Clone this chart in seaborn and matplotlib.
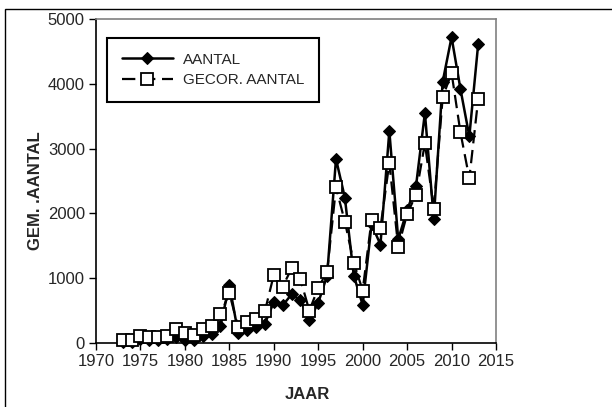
import matplotlib
matplotlib.use("Agg")
import matplotlib.pyplot as plt
import seaborn as sns
import pandas as pd
from matplotlib.patches import Rectangle

years = list(range(1973, 2014))
aantal = [20, 20, 60, 50, 40, 60, 100, 50, 40, 110, 140, 260, 900, 150, 200, 240, 300,
          630, 580, 750, 660, 350, 620, 1040, 2840, 2240, 1040, 590, 1830, 1520, 3270,
          1600, 2050, 2420, 3550, 1920, 4030, 4720, 3920, 3190, 4620]
gecor = [40, 40, 115, 90, 90, 115, 210, 160, 130, 210, 260, 440, 770, 240, 330, 370, 490,
         1050, 870, 1150, 980, 500, 850, 1100, 2400, 1870, 1240, 810, 1900, 1780, 2780,
         1480, 1990, 2290, 3080, 2070, 3790, 4170, 3250, 2540, 3770]
x_ticks = [1970, 1975, 1980, 1985, 1990, 1995, 2000, 2005, 2010, 2015]
y_ticks = [0, 1000, 2000, 3000, 4000, 5000]
labels = ["AANTAL", "GECOR. AANTAL"]

df = pd.DataFrame({"JAAR": years, "AANTAL": aantal, "GECOR": gecor})

sns.set_theme(style="white")
plt.rcParams['font.family'] = ['Liberation Sans', 'DejaVu Sans']

fig = plt.figure(figsize=(6.12, 4.07), dpi=100)
ax = fig.add_axes([96/612, 1-343/407, 400/612, 324/407])

sns.lineplot(data=df, x="JAAR", y="AANTAL", ax=ax, color="black", linewidth=1.8,
             marker="D", markersize=6.5, markerfacecolor="black", markeredgecolor="black",
             label=labels[0], zorder=3, clip_on=False)
sns.lineplot(data=df, x="JAAR", y="GECOR", ax=ax, color="black", linewidth=1.6,
             dashes=False, marker="s", markersize=8.8, markerfacecolor="white",
             markeredgecolor="black", markeredgewidth=1.3, label=labels[1], zorder=4,
             clip_on=False)
ax.lines[1].set_linestyle((0, (6, 3)))

ax.set_xlim(1970, 2015)
ax.set_ylim(0, 5000)
ax.set_xticks(x_ticks)
ax.set_yticks(y_ticks)
ax.tick_params(axis="both", labelsize=12, direction="out", length=5, width=1,
               color="black", left=True, bottom=True, pad=3)
ax.set_xlabel("JAAR", fontsize=12, fontweight="bold")
ax.set_ylabel("GEM. .AANTAL", fontsize=12, fontweight="bold")
ax.xaxis.set_label_coords((307-96)/400, (343-387)/324)
ax.yaxis.set_label_coords((43-96)/400, 0.47)

for s in ["left", "bottom"]:
    ax.spines[s].set_color("black")
    ax.spines[s].set_linewidth(1.2)
for s in ["top", "right"]:
    ax.spines[s].set_color("#808080")
    ax.spines[s].set_linewidth(1.2)

leg = ax.legend(loc="upper left", bbox_to_anchor=(11/400, 1-19/324), fontsize=11,
                frameon=True, fancybox=False, edgecolor="black", handlelength=3.4,
                borderpad=0.95, labelspacing=0.45, handletextpad=0.6, borderaxespad=0)
leg.get_frame().set_linewidth(1.5)
leg.get_frame().set_facecolor("white")
leg.get_frame().set_alpha(1)

fig.patches.append(Rectangle((5/612, -0.02), 1.02, 1-9/407+0.02, transform=fig.transFigure,
                             fill=False, edgecolor="black", linewidth=1.0))

fig.savefig("out.png", dpi=100)
